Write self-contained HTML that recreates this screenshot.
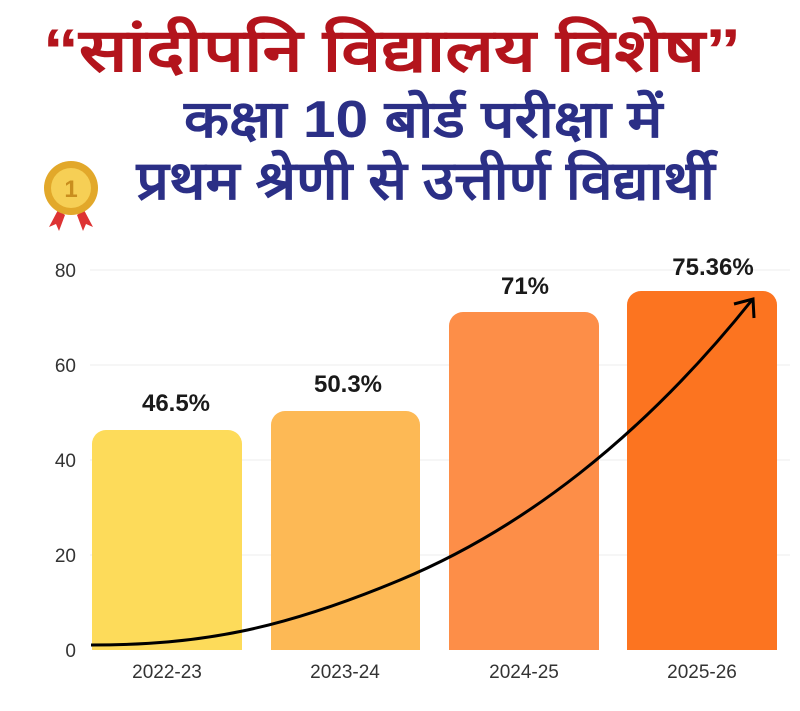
<!DOCTYPE html>
<html><head><meta charset="utf-8"><style>
body{margin:0;background:#fff;}
.w{position:relative;width:800px;height:711px;overflow:hidden;background:#fff;font-family:"Liberation Sans",sans-serif;}
.t{position:absolute;left:0;width:800px;text-align:center;font-weight:bold;white-space:nowrap;transform-origin:390px 50%;}
</style></head><body><div class="w">
<div class="t" style="top:16px;left:-10px;font-size:60px;color:#B3141C;line-height:70px;transform:scaleX(1.2);">“सांदीपनि विद्यालय विशेष”</div>
<div class="t" style="top:90px;left:22px;font-size:52px;color:#2B2F86;line-height:60px;transform:scaleX(1.13);">कक्षा 10 बोर्ड परीक्षा में</div>
<div class="t" style="top:150px;left:25px;font-size:54px;color:#2B2F86;line-height:62px;transform:scaleX(1.06);">प्रथम श्रेणी से उत्तीर्ण विद्यार्थी</div>
<svg width="800" height="711" style="position:absolute;left:0;top:0">
 <g>
  <path d="M58 210 l-9 17 l7 -3 l3 7 l6 -16z" fill="#d33"/>
  <path d="M84 210 l9 17 l-7 -3 l-3 7 l-6 -16z" fill="#d33"/>
  <circle cx="71" cy="188" r="27" fill="#E2A82A"/>
  <circle cx="71" cy="188" r="20" fill="#F6CF55"/>
  <text x="71" y="197" font-size="24" text-anchor="middle" fill="#C98E1E" font-weight="bold" font-family="Liberation Sans">1</text>
 </g>
 <g stroke="#eee" stroke-width="1">
  <line x1="90" y1="270" x2="790" y2="270"/><line x1="90" y1="365" x2="790" y2="365"/>
  <line x1="90" y1="460" x2="790" y2="460"/><line x1="90" y1="555" x2="790" y2="555"/>
 </g>
 <g font-family="Liberation Sans" font-size="19" fill="#333" text-anchor="end">
  <text x="76" y="277">80</text><text x="76" y="372">60</text><text x="76" y="467">40</text><text x="76" y="562">20</text><text x="76" y="657">0</text>
 </g>
 <path d="M92 650 V444 a14 14 0 0 1 14 -14 H228 a14 14 0 0 1 14 14 V650z" fill="#FDDB5A"/>
 <path d="M271 650 V425 a14 14 0 0 1 14 -14 H406 a14 14 0 0 1 14 14 V650z" fill="#FDB955"/>
 <path d="M449 650 V326 a14 14 0 0 1 14 -14 H585 a14 14 0 0 1 14 14 V650z" fill="#FD8E48"/>
 <path d="M627 650 V305 a14 14 0 0 1 14 -14 H763 a14 14 0 0 1 14 14 V650z" fill="#FC7420"/>
 <g font-family="Liberation Sans" font-size="24" font-weight="bold" fill="#1a1a1a" text-anchor="middle">
  <text x="176" y="411">46.5%</text><text x="348" y="392">50.3%</text>
  <text x="525" y="294">71%</text><text x="713" y="275">75.36%</text>
 </g>
 <g font-family="Liberation Sans" font-size="19" fill="#333" text-anchor="middle">
  <text x="167" y="678">2022-23</text><text x="345" y="678">2023-24</text>
  <text x="524" y="678">2024-25</text><text x="702" y="678">2025-26</text>
 </g>
 <path d="M91 645 C200 645 280 630 400 580 C520 530 640 440 752 300" fill="none" stroke="#000" stroke-width="3"/>
 <path d="M734 304 L753 299 L754 318" fill="none" stroke="#000" stroke-width="3"/>
</svg>
</div></body></html>
